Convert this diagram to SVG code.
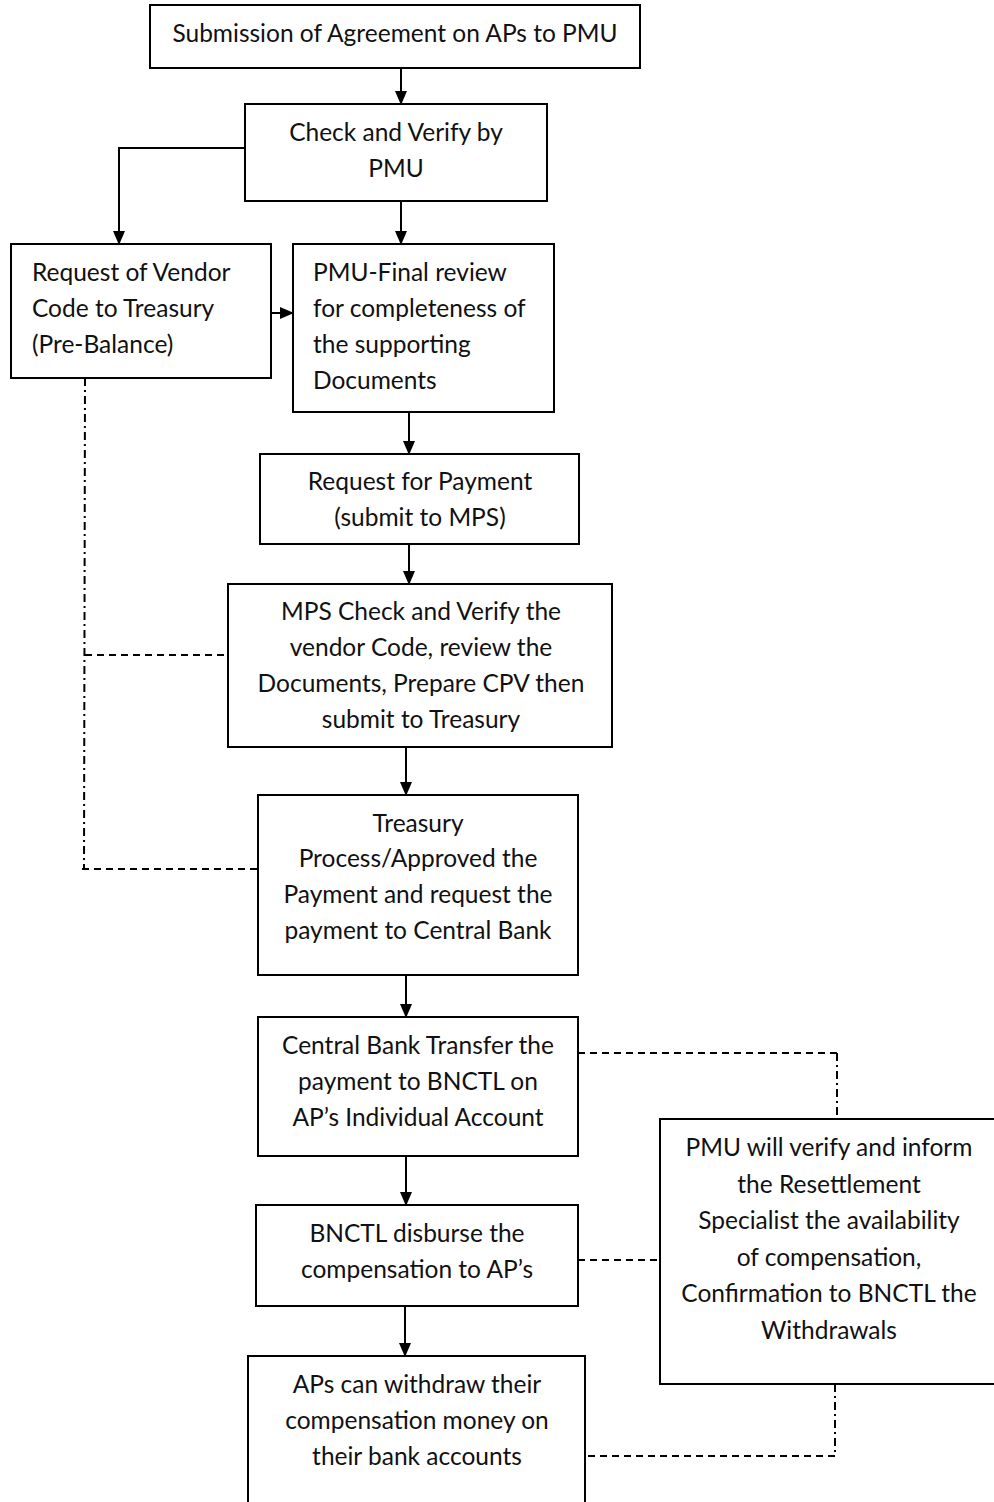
<svg xmlns="http://www.w3.org/2000/svg" width="994" height="1502" viewBox="0 0 994 1502">
<defs>
<marker id="ar" markerWidth="14" markerHeight="12" refX="13" refY="6" orient="auto" markerUnits="userSpaceOnUse" viewBox="0 0 14 12">
<path d="M0,0 L14,6 L0,12 Z" fill="#000"/>
</marker>
<style>
.box{fill:#fff;stroke:#000;stroke-width:2}
.t{font-family:Lato,"Liberation Sans",sans-serif;font-size:24.5px;fill:#111}
.c{text-anchor:middle}
.ln{fill:none;stroke:#000;stroke-width:2}
.dash{fill:none;stroke:#000;stroke-width:2;stroke-dasharray:7,5}
.dd{fill:none;stroke:#000;stroke-width:2;stroke-dasharray:8,4,2,4}
</style>
</defs>
<rect width="994" height="1502" fill="#fff"/>
<g id="connectors">
<line class="ln" x1="401" y1="68" x2="401" y2="104" marker-end="url(#ar)"/>
<polyline class="ln" points="245,148 119,148 119,244" marker-end="url(#ar)"/>
<line class="ln" x1="401" y1="201" x2="401" y2="244" marker-end="url(#ar)"/>
<line class="ln" x1="271" y1="313" x2="293" y2="313" marker-end="url(#ar)"/>
<line class="ln" x1="409" y1="412" x2="409" y2="454" marker-end="url(#ar)"/>
<line class="ln" x1="409" y1="544" x2="409" y2="584" marker-end="url(#ar)"/>
<line class="ln" x1="406" y1="747" x2="406" y2="795" marker-end="url(#ar)"/>
<line class="ln" x1="406" y1="975" x2="406" y2="1017" marker-end="url(#ar)"/>
<line class="ln" x1="406" y1="1156" x2="406" y2="1205" marker-end="url(#ar)"/>
<line class="ln" x1="405" y1="1306" x2="405" y2="1356" marker-end="url(#ar)"/>
<line class="dd" x1="85" y1="378" x2="84" y2="869"/>
<line class="dash" x1="85" y1="655" x2="228" y2="655"/>
<line class="dash" x1="82" y1="869" x2="258" y2="869"/>
<polyline class="dash" points="578,1053 837,1053"/>
<line class="dd" x1="837" y1="1053" x2="837" y2="1119"/>
<line class="dash" x1="578" y1="1260" x2="660" y2="1260"/>
<line class="dd" x1="835" y1="1384" x2="835" y2="1456"/>
<line class="dash" x1="835" y1="1456" x2="585" y2="1456"/>
</g>
<g id="n1"><rect class="box" x="150" y="5" width="490" height="63"/>
<text class="t c" x="395" y="42">Submission of Agreement on APs to PMU</text></g>
<g id="n2"><rect class="box" x="245" y="104" width="302" height="97"/>
<text class="t c" x="396" y="141">Check and Verify by</text>
<text class="t c" x="396" y="177">PMU</text></g>
<g id="n3"><rect class="box" x="11" y="244" width="260" height="134"/>
<text class="t" x="32" y="281">Request of Vendor</text>
<text class="t" x="32" y="317">Code to Treasury</text>
<text class="t" x="32" y="353">(Pre-Balance)</text></g>
<g id="n4"><rect class="box" x="293" y="244" width="261" height="168"/>
<text class="t" x="313" y="281">PMU-Final review</text>
<text class="t" x="313" y="317">for completeness of</text>
<text class="t" x="313" y="353">the supporting</text>
<text class="t" x="313" y="389">Documents</text></g>
<g id="n5"><rect class="box" x="260" y="454" width="319" height="90"/>
<text class="t c" x="420" y="490">Request for Payment</text>
<text class="t c" x="420" y="526">(submit to MPS)</text></g>
<g id="n6"><rect class="box" x="228" y="584" width="384" height="163"/>
<text class="t c" x="421" y="620">MPS Check and Verify the</text>
<text class="t c" x="421" y="656">vendor Code, review the</text>
<text class="t c" x="421" y="692">Documents, Prepare CPV then</text>
<text class="t c" x="421" y="728">submit to Treasury</text></g>
<g id="n7"><rect class="box" x="258" y="795" width="320" height="180"/>
<text class="t c" x="418" y="832">Treasury</text>
<text class="t c" x="418" y="867">Process/Approved the</text>
<text class="t c" x="418" y="903">Payment and request the</text>
<text class="t c" x="418" y="939">payment to Central Bank</text></g>
<g id="n8"><rect class="box" x="258" y="1017" width="320" height="139"/>
<text class="t c" x="418" y="1054">Central Bank Transfer the</text>
<text class="t c" x="418" y="1090">payment to BNCTL on</text>
<text class="t c" x="418" y="1126">AP’s Individual Account</text></g>
<g id="n9"><rect class="box" x="256" y="1205" width="322" height="101"/>
<text class="t c" x="417" y="1242">BNCTL disburse the</text>
<text class="t c" x="417" y="1278">compensation to AP’s</text></g>
<g id="n10"><rect class="box" x="248" y="1356" width="337" height="150"/>
<text class="t c" x="417" y="1393">APs can withdraw their</text>
<text class="t c" x="417" y="1429">compensation money on</text>
<text class="t c" x="417" y="1465">their bank accounts</text></g>
<g id="n11"><rect class="box" x="660" y="1119" width="340" height="265"/>
<text class="t c" x="829" y="1156">PMU will verify and inform</text>
<text class="t c" x="829" y="1193">the Resettlement</text>
<text class="t c" x="829" y="1229">Specialist the availability</text>
<text class="t c" x="829" y="1266">of compensation,</text>
<text class="t c" x="829" y="1302">Confirmation to BNCTL the</text>
<text class="t c" x="829" y="1339">Withdrawals</text></g>
</svg>
